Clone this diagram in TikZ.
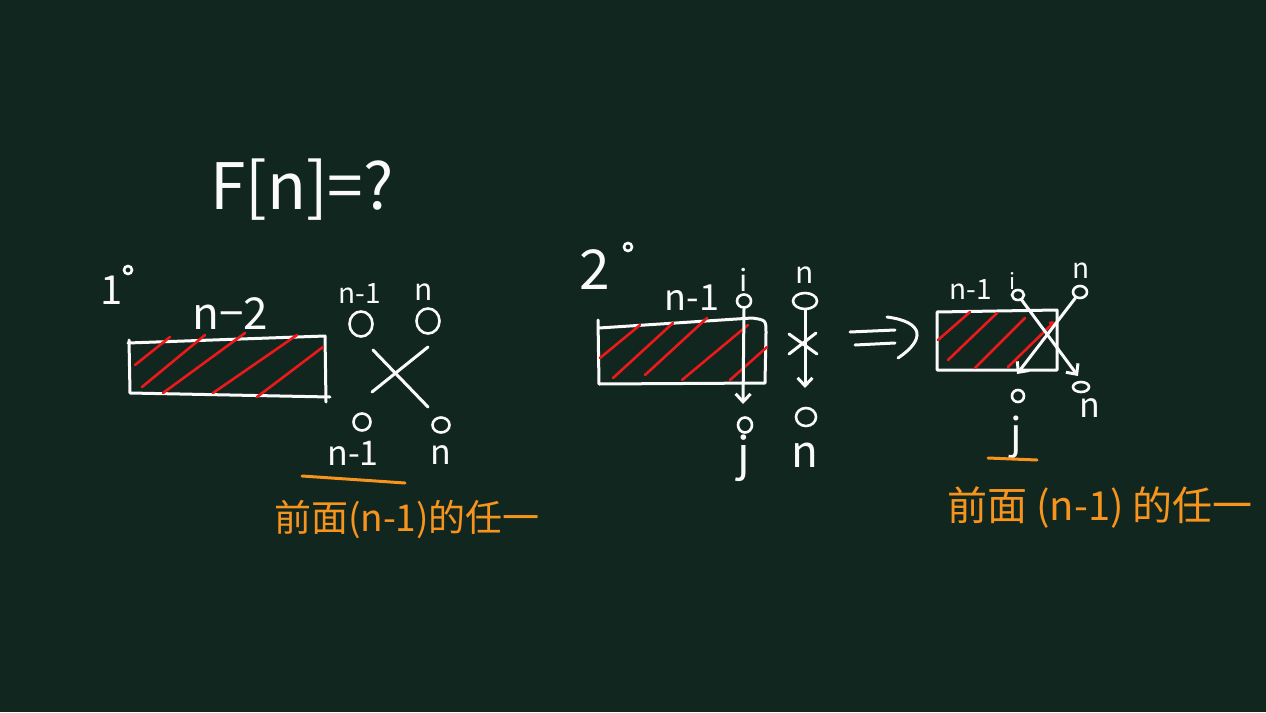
\documentclass[tikz,border=0pt]{standalone}
\usepackage{fontspec}
\setmainfont{Noto Sans CJK SC}
\usetikzlibrary{arrows.meta,shapes.geometric}
\definecolor{board}{RGB}{16,38,31}
\definecolor{chalk}{RGB}{250,250,250}
\definecolor{hatch}{RGB}{235,25,25}
\definecolor{marker}{RGB}{247,148,29}
\begin{document}
\begin{tikzpicture}[x=1pt,y=-1pt,
  chalkline/.style={draw=chalk,line width=3pt,line cap=round,line join=round},
  hatchline/.style={draw=hatch,line width=2.6pt,line cap=round},
  orangeline/.style={draw=marker,line width=3pt,line cap=round},
  lbl/.style={text=chalk,inner sep=0pt,font=\fontsize{#1}{#1}\selectfont},
  lbl/.default=28,
  ring/.style args={#1x#2}{draw=chalk,line width=2.6pt,ellipse,minimum width=#1pt,minimum height=#2pt,inner sep=0pt},
  note/.style={text=marker,inner sep=0pt,font=\fontsize{#1}{#1}\selectfont},
  barb/.style={-{Straight Barb[length=8pt,width=15pt]}}]
\useasboundingbox (0,0) rectangle (1266,712);
\fill[board] (0,0) rectangle (1266,712);

% title
\node[lbl=64] (title) at (302,190) {F[n]=?};

% ---------- case 1 ----------
\node[lbl=40] (one) at (112,290) {1};
\node[ring=8x8] (deg1) at (128,270) {};
\draw[chalkline] (128,343) -- (325,336) -- (326,402);
\draw[chalkline] (129,340) -- (130,393) -- (330,397);
\draw[hatchline] (135,365) -- (170,337);
\draw[hatchline] (142,387) -- (205,335);
\draw[hatchline] (163,393) -- (245,333);
\draw[hatchline] (213,393) -- (297,335);
\draw[hatchline] (257,397) -- (323,347);
\node[lbl=44] (nm2) at (230,314) {n−2};
\node[lbl=28] (t1a) at (360,294) {n-1};
\node[lbl=30] (t1b) at (424,292) {n};
\node[ring=23x25] (c1a) at (361,324) {};
\node[ring=23x25] (c1b) at (428,321) {};
\draw[chalkline] (372,392) -- (428,347);
\draw[chalkline] (373,350) -- (428,407);
\node[ring=17x17] (c1c) at (362,422) {};
\node[ring=17x15] (c1d) at (441,425) {};
\node[lbl=34] (b1a) at (353,453) {n-1};
\node[lbl=34] (b1b) at (441,455) {n};
\draw[orangeline] (302,476) -- (405,483);
\node[note=37] (note1) at (407,519) {前面(n-1)的任一};

% ---------- case 2 ----------
\node[lbl=55] (two) at (595,270) {2};
\node[ring=8x8] (deg2) at (628,247) {};
\draw[chalkline] (598,320) -- (599,384) -- (765,383) -- (766,333)
   .. controls (766,320) .. (752,318) -- (599,328);
\draw[hatchline] (600,358) -- (640,325);
\draw[hatchline] (613,378) -- (673,323);
\draw[hatchline] (645,375) -- (707,318);
\draw[hatchline] (682,380) -- (748,325);
\draw[hatchline] (730,380) -- (767,347);
\node[lbl=36] (t2a) at (692,298) {n-1};
\node[lbl=30] (t2i) at (744,280) {i};
\node[ring=14x13] (i2c) at (744,301) {};
\coordinate (j2tip) at (743,404);
\draw[chalkline,barb] (i2c.south) -- (j2tip);
\node[ring=14x15] (j2c) at (745,425) {};
\node[lbl=46] (t2j) at (744,458) {j};
\node[lbl=30] (t2n) at (805,275) {n};
\node[ring=24x16] (n2c) at (805,301) {};
\coordinate (n2tip) at (805,388);
\draw[chalkline,barb] (n2c.south) -- (n2tip);
\draw[chalkline] (789,334) -- (817,354);
\draw[chalkline] (789,354) -- (816,333);
\node[ring=20x18] (n2d) at (806,417) {};
\node[lbl=44] (t2m) at (805,455) {n};

% implies arrow
\draw[chalkline] (850,332) -- (895,330);
\draw[chalkline] (855,345) -- (895,343);
\draw[chalkline] (887,317) .. controls (925,322) and (925,340) .. (898,358);

% ---------- result ----------
\draw[chalkline] (937,312) -- (1057,310) -- (1057,370) -- (937,370) -- cycle;
\draw[hatchline] (938,340) -- (970,312);
\draw[hatchline] (948,360) -- (997,313);
\draw[hatchline] (975,368) -- (1025,318);
\draw[hatchline] (1008,367) -- (1049,327) .. controls (1054,322) .. (1050,323);
\node[lbl=28] (t3a) at (971,290) {n-1};
\node[lbl=22] (t3i) at (1013,281) {i};
\node[lbl=28] (t3n) at (1081,271) {n};
\node[ring=12x10] (i3c) at (1018,295) {};
\node[ring=14x12] (n3c) at (1080,292) {};
\coordinate (i3tip) at (1078,376);
\coordinate (n3tip) at (1017,374);
\draw[chalkline,barb] (i3c) -- (i3tip);
\draw[chalkline,barb] (n3c) -- (n3tip);
\node[ring=12x12] (j3c) at (1018,396) {};
\node[ring=16x10] (n3d) at (1081,387) {};
\node[lbl=34] (t3m) at (1090,408) {n};
\node[lbl=42] (t3j) at (1016,437) {j};
\draw[orangeline] (988,458) -- (1037,460);
\node[note=40] (note2) at (1100,508) {前面 (n-1) 的任一};
\end{tikzpicture}
\end{document}
